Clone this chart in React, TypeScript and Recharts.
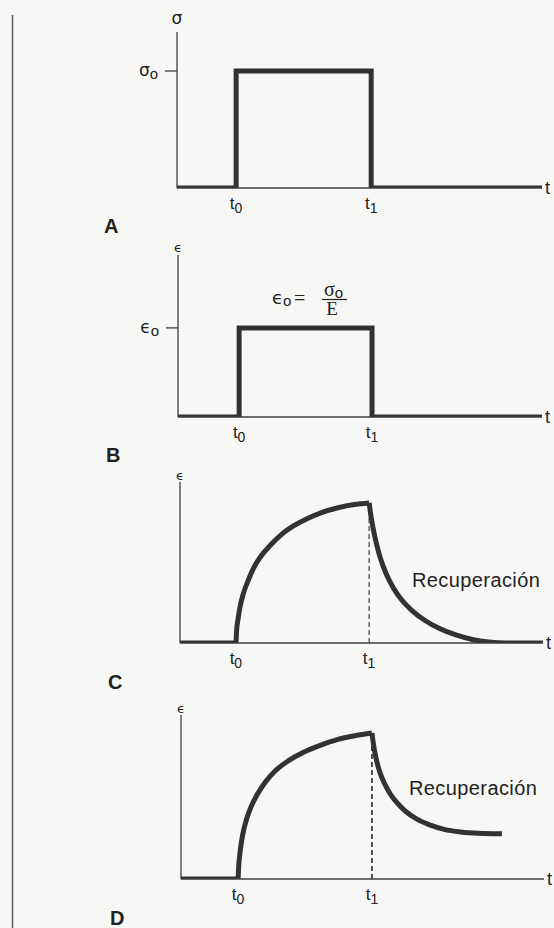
import React from 'react';
import { LineChart, Line, XAxis, YAxis, ReferenceLine } from 'recharts';

const INK = '#323232';
const AXIS_INK = '#3e3e3e';
const TEXT_INK = '#222222';
const PAPER = '#f7f7f5';
const SANS = '"Liberation Sans", Arial, Helvetica, sans-serif';
const SERIF = '"Liberation Serif", "Times New Roman", serif';
const GREEK = '"DejaVu Sans", "Noto Sans", sans-serif';

const WIDTH = 554;
const HEIGHT = 928;

// A: stress held at σ0 between t0 and t1
const timeA = [0, 1.62, 1.62, 5.32, 5.32, 10];
const stressA = [0, 0, 7.5, 7.5, 0, 0];
const sigma0A = 7.5;
const instantsA = [1.62, 5.32];

// B: purely elastic strain, ε0 = σ0 / E
const timeB = [0, 1.68, 1.68, 5.33, 5.33, 10];
const strainB = [0, 0, 5.5, 5.5, 0, 0];
const eps0B = 5.5;
const instantsB = [1.68, 5.33];

// C: viscoelastic strain, full recovery after unloading
const loadTimeC = [0, 1.54, 1.56, 1.6, 1.65, 1.75, 1.88, 2.05, 2.25, 2.5, 2.8, 3.15, 3.5, 3.9, 4.35, 4.8, 5.21];
const loadStrainC = [0, 0, 0.8, 1.5, 2.2, 3.1, 3.9, 4.75, 5.45, 6.1, 6.75, 7.3, 7.72, 8.1, 8.4, 8.6, 8.7];
const unloadTimeC = [5.21, 5.26, 5.33, 5.42, 5.53, 5.68, 5.87, 6.1, 6.4, 6.75, 7.15, 7.6, 8.05, 8.5, 9.0, 10];
const unloadStrainC = [8.7, 7.9, 7.0, 6.1, 5.2, 4.3, 3.45, 2.7, 2.0, 1.4, 0.9, 0.5, 0.22, 0.06, 0, 0];
const instantsC = [1.54, 5.21];

// D: viscoelastic strain with permanent residual deformation
const loadTimeD = [0, 1.57, 1.59, 1.63, 1.7, 1.8, 1.93, 2.1, 2.32, 2.6, 2.95, 3.35, 3.8, 4.3, 4.8, 5.26];
const loadStrainD = [0, 0, 0.8, 1.7, 2.7, 3.6, 4.4, 5.15, 5.9, 6.6, 7.2, 7.7, 8.12, 8.5, 8.74, 8.9];
const unloadTimeD = [5.26, 5.29, 5.33, 5.39, 5.48, 5.6, 5.76, 5.96, 6.2, 6.5, 6.85, 7.25, 7.7, 8.2, 8.84];
const unloadStrainD = [8.9, 8.4, 7.85, 7.2, 6.5, 5.85, 5.2, 4.62, 4.1, 3.65, 3.3, 3.03, 2.87, 2.79, 2.76];
const instantsD = [1.57, 5.26];

const instantNames = ['0', '1'];

const rows = (t: number[], v: number[]) => t.map((x, i) => ({ t: x, v: v[i] }));

const Y_AXIS_W = 60;
const X_AXIS_H = 30;

type Box = { top: number; height: number; left: number; right: number; plotTop: number; plotBottom: number };

type Series = { data: { t: number; v: number }[]; curve: 'linear' | 'monotone' };

type PanelProps = {
  box: Box;
  instants: number[];
  symbol: string;
  symbolFont: string;
  symbolSize: number;
  symbolLift: number;
  level?: number;
  levelSymbol?: string;
  levelFont?: string;
  series: Series[];
  dashedPeak?: number;
  dashWidth?: number;
};

function Panel(p: PanelProps) {
  const { box, instants } = p;
  const margin = {
    top: box.plotTop - box.top,
    left: box.left - Y_AXIS_W,
    right: WIDTH - box.right,
    bottom: box.top + box.height - box.plotBottom - X_AXIS_H,
  };

  const timeTick = (props: any) => {
    const idx = instants.indexOf(props.payload.value);
    return (
      <text x={props.x} y={props.y + 21} textAnchor="middle" fill={TEXT_INK} fontFamily={SANS} fontSize={17}>
        t
        <tspan fontSize={14} dy={4}>
          {instantNames[idx]}
        </tspan>
      </text>
    );
  };

  const levelTick = (props: any) => (
    <text x={props.x} y={props.y + 5} textAnchor="end" fill={TEXT_INK} fontFamily={p.levelFont} fontSize={17}>
      {p.levelSymbol}
      <tspan fontFamily={SANS} fontSize={15} dy={3}>
        o
      </tspan>
    </text>
  );

  const symbolLabel = (props: any) => {
    const vb = props.viewBox;
    return (
      <text
        x={vb.x + vb.width}
        y={vb.y - p.symbolLift}
        textAnchor="middle"
        fill={TEXT_INK}
        fontFamily={p.symbolFont}
        fontSize={p.symbolSize}
      >
        {p.symbol}
      </text>
    );
  };

  const timeLabel = (props: any) => {
    const vb = props.viewBox;
    return (
      <text x={vb.x + vb.width + 3} y={vb.y + 6} fill={TEXT_INK} fontFamily={SANS} fontSize={18}>
        t
      </text>
    );
  };

  const hasLevel = p.level !== undefined;

  return (
    <div style={{ position: 'absolute', left: 0, top: box.top, width: WIDTH, height: box.height }}>
      <LineChart width={WIDTH} height={box.height} margin={margin}>
        <XAxis
          dataKey="t"
          type="number"
          domain={[0, 10]}
          ticks={instants}
          interval={0}
          tick={timeTick}
          tickLine={false}
          tickSize={0}
          tickMargin={0}
          height={X_AXIS_H}
          axisLine={{ stroke: AXIS_INK, strokeWidth: 1.3 }}
          allowDataOverflow
          label={timeLabel}
        />
        <YAxis
          type="number"
          domain={[0, 10]}
          ticks={hasLevel ? [p.level as number] : undefined}
          interval={0}
          tick={hasLevel ? levelTick : false}
          tickLine={hasLevel ? { stroke: AXIS_INK, strokeWidth: 1.3 } : false}
          tickSize={12}
          tickMargin={7}
          width={Y_AXIS_W}
          axisLine={{ stroke: AXIS_INK, strokeWidth: 1.3 }}
          allowDataOverflow
          label={symbolLabel}
        />
        {p.dashedPeak !== undefined && (
          <ReferenceLine
            segment={[
              { x: instants[1], y: 0 },
              { x: instants[1], y: p.dashedPeak },
            ]}
            stroke={AXIS_INK}
            strokeWidth={p.dashWidth ?? 1.2}
            strokeDasharray="5 3"
          />
        )}
        {p.series.map((s, i) => (
          <Line
            key={i}
            data={s.data}
            dataKey="v"
            type={s.curve}
            stroke={INK}
            strokeWidth={5}
            strokeLinejoin="miter"
            strokeLinecap="butt"
            dot={false}
            activeDot={false}
            isAnimationActive={false}
          />
        ))}
      </LineChart>
    </div>
  );
}

const boxA: Box = { top: 0, height: 236, left: 177, right: 542, plotTop: 32, plotBottom: 188 };
const boxB: Box = { top: 236, height: 226, left: 178, right: 542, plotTop: 255, plotBottom: 417 };
const boxC: Box = { top: 462, height: 232, left: 180, right: 543, plotTop: 482, plotBottom: 643 };
const boxD: Box = { top: 694, height: 234, left: 181, right: 544, plotTop: 715, plotBottom: 879 };

const panelLetter = (x: number, y: number, s: string) => (
  <text x={x} y={y} fill={TEXT_INK} fontFamily={SANS} fontWeight={700} fontSize={20}>
    {s}
  </text>
);

export default function App() {
  return (
    <div
      style={{
        position: 'absolute',
        left: 0,
        top: 0,
        width: WIDTH,
        height: HEIGHT,
        background: PAPER,
        overflow: 'hidden',
      }}
    >
      <Panel
        box={boxA}
        instants={instantsA}
        symbol="σ"
        symbolFont={GREEK}
        symbolSize={17}
        symbolLift={8}
        level={sigma0A}
        levelSymbol="σ"
        levelFont={GREEK}
        series={[{ data: rows(timeA, stressA), curve: 'linear' }]}
      />
      <Panel
        box={boxB}
        instants={instantsB}
        symbol="ϵ"
        symbolFont={GREEK}
        symbolSize={13}
        symbolLift={3}
        level={eps0B}
        levelSymbol="ϵ"
        levelFont={GREEK}
        series={[{ data: rows(timeB, strainB), curve: 'linear' }]}
      />
      <Panel
        box={boxC}
        instants={instantsC}
        symbol="ϵ"
        symbolFont={GREEK}
        symbolSize={13}
        symbolLift={2}
        series={[
          { data: rows(loadTimeC, loadStrainC), curve: 'monotone' },
          { data: rows(unloadTimeC, unloadStrainC), curve: 'monotone' },
        ]}
        dashedPeak={loadStrainC[loadStrainC.length - 1]}
        dashWidth={1.2}
      />
      <Panel
        box={boxD}
        instants={instantsD}
        symbol="ϵ"
        symbolFont={GREEK}
        symbolSize={13}
        symbolLift={2}
        series={[
          { data: rows(loadTimeD, loadStrainD), curve: 'monotone' },
          { data: rows(unloadTimeD, unloadStrainD), curve: 'monotone' },
        ]}
        dashedPeak={loadStrainD[loadStrainD.length - 1]}
        dashWidth={1.8}
      />

      <svg
        width={WIDTH}
        height={HEIGHT}
        style={{ position: 'absolute', left: 0, top: 0, pointerEvents: 'none' }}
      >
        <line x1={12.5} y1={15} x2={12.5} y2={HEIGHT} stroke="#5a5a5a" strokeWidth={1.5} />

        {panelLetter(104, 233, 'A')}
        {panelLetter(106, 462, 'B')}
        {panelLetter(108, 689, 'C')}
        {panelLetter(110, 925, 'D')}

        {/* ε0 = σ0 / E */}
        <text x={272} y={304} fill={TEXT_INK} fontFamily={GREEK} fontSize={18}>
          ϵ
          <tspan fontFamily={SANS} fontSize={15} dy={2}>
            o
          </tspan>
        </text>
        <text x={294} y={305} fill={TEXT_INK} fontFamily={SERIF} fontSize={20}>
          =
        </text>
        <text x={324} y={296} fill={TEXT_INK} fontFamily={SERIF} fontSize={20}>
          σ
          <tspan fontFamily={SANS} fontSize={15} dy={2}>
            o
          </tspan>
        </text>
        <line x1={322} y1={299.5} x2={347} y2={299.5} stroke={TEXT_INK} strokeWidth={1.2} />
        <text x={332} y={315} textAnchor="middle" fill={TEXT_INK} fontFamily={SERIF} fontSize={19}>
          E
        </text>

        <text x={412} y={587} fill={TEXT_INK} fontFamily={SANS} fontSize={20} letterSpacing={0.4}>
          Recuperación
        </text>
        <text x={409} y={795} fill={TEXT_INK} fontFamily={SANS} fontSize={20} letterSpacing={0.4}>
          Recuperación
        </text>
      </svg>
    </div>
  );
}
